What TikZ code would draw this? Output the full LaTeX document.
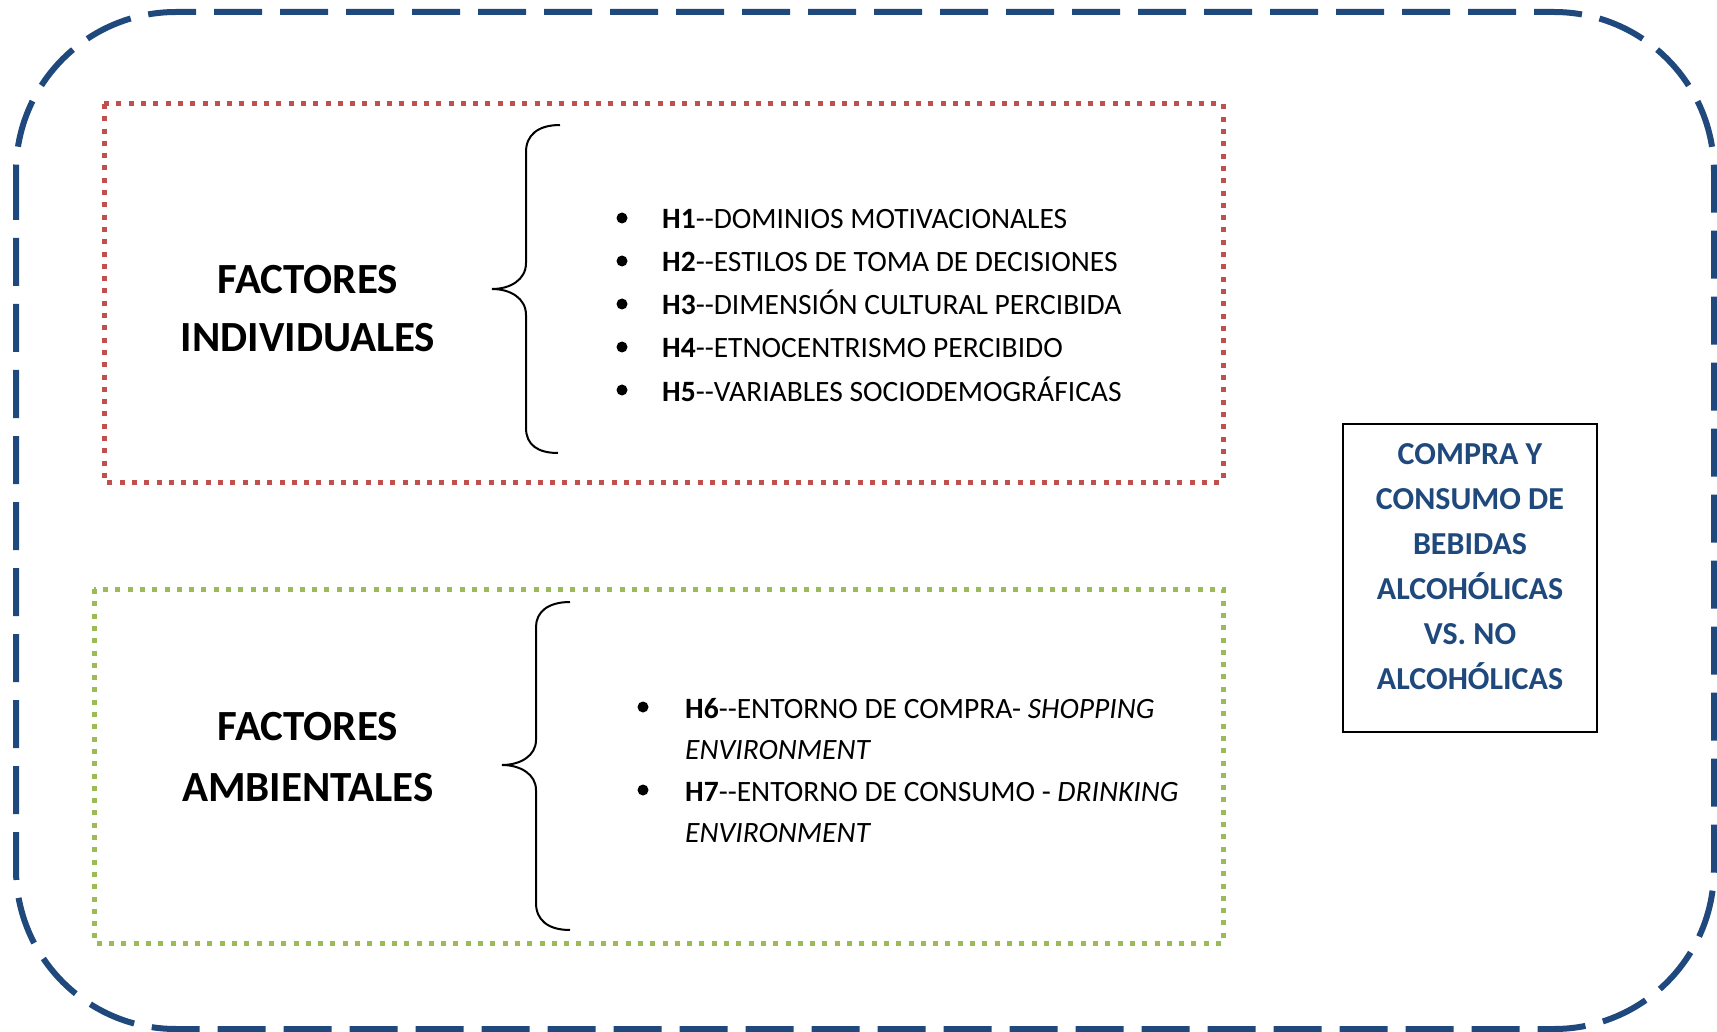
\documentclass[tikz,border=0pt]{standalone}
\usepackage{fontspec}
\setmainfont{Carlito}
\definecolor{dblue}{HTML}{1F497D}
\definecolor{dred}{HTML}{C0504D}
\definecolor{dgreen}{HTML}{9BBB59}
\newcommand\dbldash{-\kern0pt-}
\begin{document}
\begin{tikzpicture}[x=1pt,y=-1pt,
  outerframe/.style={draw=dblue, line width=6pt, dash pattern=on 48pt off 18pt, rounded corners=160pt},
  redframe/.style={draw=dred, line width=5pt, dash pattern=on 5pt off 7.3pt},
  greenframe/.style={draw=dgreen, line width=5pt, dash pattern=on 5pt off 7.3pt},
  titletxt/.style={font=\fontsize{43}{50}\selectfont\bfseries, anchor=base, inner sep=0pt},
  itemtxt/.style={font=\fontsize{29.5}{34}\selectfont, anchor=base west, inner sep=0pt},
  restxt/.style={font=\fontsize{32}{40}\selectfont\bfseries, text=dblue, anchor=base, inner sep=0pt},
  bul/.style={circle, fill=black, inner sep=0pt, minimum size=11pt},
  bracepath/.style={draw=black, line width=2pt},
  resframe/.style={draw=black, line width=2.5pt, minimum width=254pt, minimum height=308pt, inner sep=0pt}
]
\useasboundingbox (0,0) rectangle (1717,1032);
\fill[white] (0,0) rectangle (1717,1032);
% outer frame
\draw[outerframe] (16,12) rectangle (1714,1029);
% red and green frames
\draw[redframe] (104,104) rectangle (1223,482);
\draw[greenframe] (94,589) rectangle (1223,943);
% titles
\node[titletxt] (t1a) at (308,294) {FACTORES};
\node[titletxt] (t1b) at (308,352) {INDIVIDUALES};
\node[titletxt] (t2a) at (308,740) {FACTORES};
\node[titletxt] (t2b) at (308,801) {AMBIENTALES};
% braces
\draw[bracepath] (560,125) .. controls (538,125) and (526,135) .. (526,152) -- (526,263)
  .. controls (526,280) and (510,289) .. (492,289)
  .. controls (510,289) and (526,298) .. (526,315) -- (526,428)
  .. controls (526,445) and (538,453) .. (558,453);
\draw[bracepath] (570,602) .. controls (548,602) and (536,612) .. (536,627) -- (536,740)
  .. controls (536,756) and (520,765) .. (502,765)
  .. controls (520,765) and (536,774) .. (536,790) -- (536,903)
  .. controls (536,920) and (548,930) .. (570,930);
% upper list
\node[bul] (b1) at (622,218) {};
\node[bul] (b2) at (622,261) {};
\node[bul] (b3) at (622,304) {};
\node[bul] (b4) at (622,347) {};
\node[bul] (b5) at (622,390) {};
\node[itemtxt] (h1) at (662,229) {\textbf{H1}\dbldash DOMINIOS MOTIVACIONALES};
\node[itemtxt] (h2) at (662,272) {\textbf{H2}\dbldash ESTILOS DE TOMA DE DECISIONES};
\node[itemtxt] (h3) at (662,315) {\textbf{H3}\dbldash DIMENSIÓN CULTURAL PERCIBIDA};
\node[itemtxt] (h4) at (662,358) {\textbf{H4}\dbldash ETNOCENTRISMO PERCIBIDO};
\node[itemtxt] (h5) at (662,401) {\textbf{H5}\dbldash VARIABLES SOCIODEMOGRÁFICAS};
% lower list
\node[bul] (b6) at (643,707) {};
\node[bul] (b7) at (643,790) {};
\node[itemtxt] (h6) at (685,718) {\textbf{H6}\dbldash ENTORNO DE COMPRA- \textit{SHOPPING}};
\node[itemtxt] (h6b) at (685,759) {\textit{ENVIRONMENT}};
\node[itemtxt] (h7) at (685,801) {\textbf{H7}\dbldash ENTORNO DE CONSUMO - \textit{DRINKING}};
\node[itemtxt] (h7b) at (685,842) {\textit{ENVIRONMENT}};
% result box
\node[resframe] (res) at (1470,578) {};
\node[restxt] (r1) at (1470,464) {COMPRA Y};
\node[restxt] (r2) at (1470,509) {CONSUMO DE};
\node[restxt] (r3) at (1470,554) {BEBIDAS};
\node[restxt] (r4) at (1470,599) {ALCOHÓLICAS};
\node[restxt] (r5) at (1470,644) {VS. NO};
\node[restxt] (r6) at (1470,689) {ALCOHÓLICAS};
\end{tikzpicture}
\end{document}
